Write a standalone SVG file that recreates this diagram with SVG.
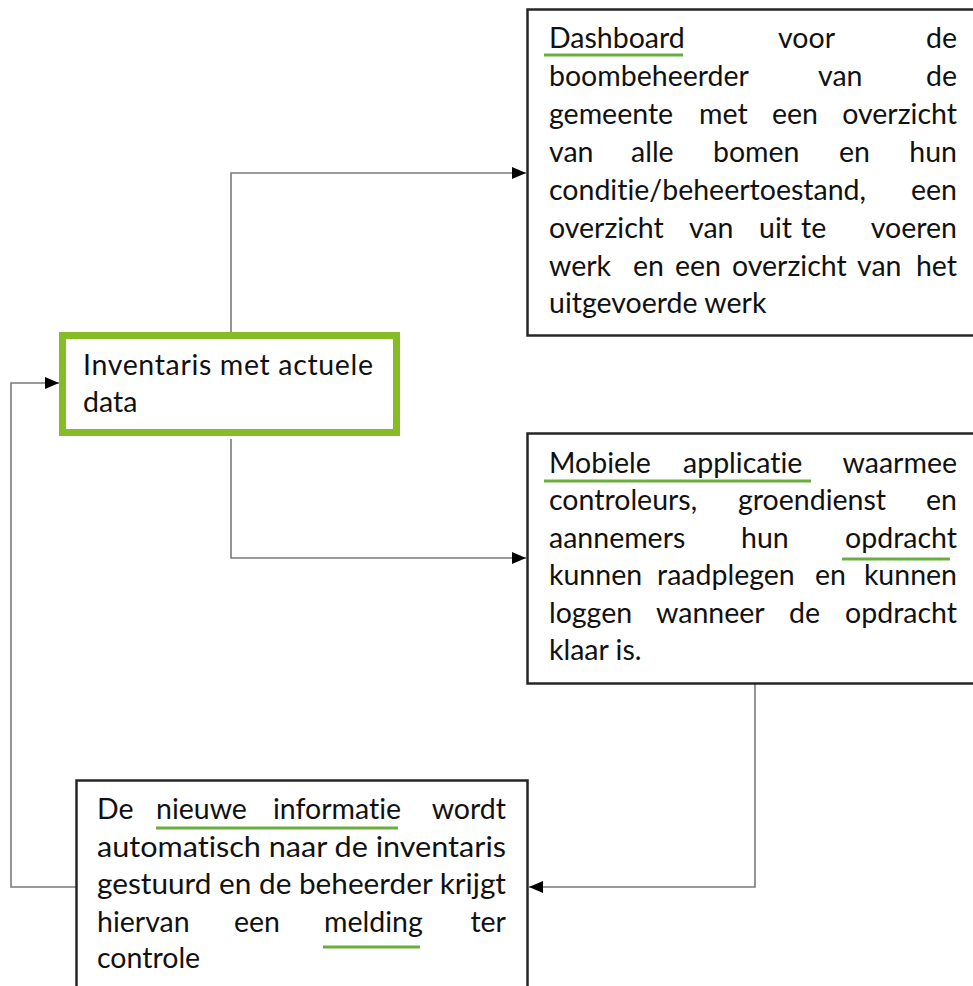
<svg xmlns="http://www.w3.org/2000/svg" width="973" height="986" viewBox="0 0 973 986">
<style>
.box{fill:#fff;stroke:#262626;stroke-width:2.5}
.inv{fill:#fff;stroke:#86BC25;stroke-width:7}
.t{font-family:Lato,"Open Sans",sans-serif;font-size:28.5px;fill:#111;font-variant-ligatures:none}
.e{text-anchor:end}
.ul{stroke:#6AAF3D;stroke-width:3}
.c{fill:none;stroke:#7a7a7a;stroke-width:1.6}
</style>
<defs>
<marker id="ah" viewBox="0 0 14 12" refX="14" refY="6" markerWidth="14" markerHeight="12" markerUnits="userSpaceOnUse" orient="auto">
<path d="M0,0 L14,6 L0,12 Z" fill="#000"/>
</marker>
</defs>
<g id="connectors">
<path class="c" d="M231,332 V173 H526" marker-end="url(#ah)"/>
<path class="c" d="M231,439 V558 H526" marker-end="url(#ah)"/>
<path class="c" d="M755,684 V887 H529" marker-end="url(#ah)"/>
<path class="c" d="M76,887 H11 V383 H59" marker-end="url(#ah)"/>
</g>
<g id="dashboard">
<rect class="box" x="527.5" y="9.5" width="460" height="326"/>
<text class="t" y="48"><tspan x="549">Dashboard</tspan><tspan x="778">voor</tspan><tspan x="957" class="e">de</tspan></text>
<text class="t" y="86"><tspan x="549">boombeheerder</tspan><tspan x="818">van</tspan><tspan x="957" class="e">de</tspan></text>
<text class="t" y="124"><tspan x="549">gemeente</tspan><tspan x="699">met</tspan><tspan x="772">een</tspan><tspan x="957" class="e">overzicht</tspan></text>
<text class="t" y="162"><tspan x="549">van</tspan><tspan x="631">alle</tspan><tspan x="713">bomen</tspan><tspan x="839">en</tspan><tspan x="957" class="e">hun</tspan></text>
<text class="t" y="200"><tspan x="549">conditie/beheertoestand,</tspan><tspan x="957" class="e">een</tspan></text>
<text class="t" y="238"><tspan x="549">overzicht</tspan><tspan x="689">van</tspan><tspan x="759">uit</tspan><tspan x="801">te</tspan><tspan x="957" class="e">voeren</tspan></text>
<text class="t" y="276"><tspan x="549">werk</tspan><tspan x="633">en</tspan><tspan x="675">een</tspan><tspan x="732">overzicht</tspan><tspan x="857">van</tspan><tspan x="957" class="e">het</tspan></text>
<text class="t" x="549" y="313">uitgevoerde werk</text>
<line class="ul" x1="544" y1="55" x2="683" y2="55"/>
</g>
<g id="inventaris">
<rect class="inv" x="62.5" y="335.5" width="334" height="97"/>
<text class="t" x="83" y="375" textLength="290" lengthAdjust="spacing">Inventaris met actuele</text>
<text class="t" x="83" y="412">data</text>
</g>
<g id="mobiele">
<rect class="box" x="527.5" y="433.5" width="460" height="250"/>
<text class="t" y="473"><tspan x="549">Mobiele</tspan><tspan x="683">applicatie</tspan><tspan x="957" class="e">waarmee</tspan></text>
<text class="t" y="510"><tspan x="549">controleurs,</tspan><tspan x="738">groendienst</tspan><tspan x="957" class="e">en</tspan></text>
<text class="t" y="548"><tspan x="549">aannemers</tspan><tspan x="741">hun</tspan><tspan x="957" class="e">opdracht</tspan></text>
<text class="t" y="585"><tspan x="549">kunnen</tspan><tspan x="657">raadplegen</tspan><tspan x="815">en</tspan><tspan x="957" class="e">kunnen</tspan></text>
<text class="t" y="623"><tspan x="549">loggen</tspan><tspan x="656">wanneer</tspan><tspan x="789">de</tspan><tspan x="957" class="e">opdracht</tspan></text>
<text class="t" x="549" y="660">klaar is.</text>
<line class="ul" x1="544" y1="481" x2="811" y2="481"/>
<line class="ul" x1="842" y1="559" x2="950" y2="559"/>
</g>
<g id="nieuwe">
<rect class="box" x="76.5" y="780.5" width="451" height="230"/>
<text class="t" y="819"><tspan x="97">De</tspan><tspan x="156">nieuwe</tspan><tspan x="273">informatie</tspan><tspan x="506" class="e">wordt</tspan></text>
<text class="t" x="97" y="857" textLength="409" lengthAdjust="spacingAndGlyphs">automatisch naar de inventaris</text>
<text class="t" x="97" y="894" textLength="409" lengthAdjust="spacingAndGlyphs">gestuurd en de beheerder krijgt</text>
<text class="t" y="932"><tspan x="97">hiervan</tspan><tspan x="234">een</tspan><tspan x="324">melding</tspan><tspan x="506" class="e">ter</tspan></text>
<text class="t" x="97" y="968">controle</text>
<line class="ul" x1="156" y1="828" x2="398" y2="828"/>
<line class="ul" x1="323" y1="947" x2="420" y2="947"/>
</g>
</svg>
